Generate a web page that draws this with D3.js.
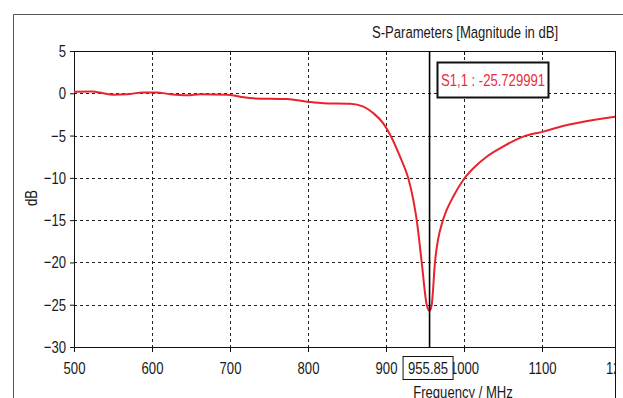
<!DOCTYPE html>
<html>
<head>
<meta charset="utf-8">
<script src="https://cdn.jsdelivr.net/npm/d3@7"></script>
<style>
  body { margin: 0; background: #fff; }
  svg text { font-family: "Liberation Sans", Arial, sans-serif; font-size: 17px; fill: #1a1a1a; }
</style>
</head>
<body>
<svg id="chart" width="623" height="398"></svg>
<script>
// S11 trace
const freqMHz = [500, 524, 536, 550, 568, 588, 606, 623, 645, 662, 696, 713, 730, 773, 799, 820, 854,
  871, 884, 896.5, 905, 918, 928.6, 935, 939.4, 945.8, 952.2, 955.85, 958.6, 962.8, 973, 977.8,
  986.3, 999, 1012, 1029, 1050, 1076, 1102, 1127, 1153, 1194, 1200];
const s11dB = [0.19, 0.2, 0.03, -0.16, -0.12, 0.1, 0.1, -0.1, -0.24, -0.12, -0.16, -0.4, -0.6, -0.67, -0.99, -1.18, -1.25,
  -1.58, -2.37, -3.55, -4.85, -7.5, -10.05, -12.6, -15, -20, -25, -25.73, -25, -20, -15, -13.8,
  -12.2, -10.25, -8.87, -7.5, -6.3, -5.12, -4.53, -3.87, -3.36, -2.77, -2.7];
const xTicks = [500, 600, 700, 800, 900, 1000, 1100, 1200];
const yTicks = [5, 0, -5, -10, -15, -20, -25, -30];
const markerFreq = 955.85;
const markerLabel = "S1,1 : -25.729991";

const NARROW = 0.77; // the original uses a condensed face
const svg = d3.select('#chart');
const pLeft = 74, pRight = 615, pTop = 51, pBottom = 347;

let x = d3.scaleLinear().domain([500, 1200]).range([74, 620]);
let y = d3.scaleLinear().domain([-30, 5]).range([pBottom, pTop]);

function label(tx, ty, str, anchor, extra = '') {
  return svg.append('text')
    .attr('transform', `translate(${tx},${ty})${extra}scale(${NARROW},1)`)
    .attr('text-anchor', anchor || 'start')
    .text(str);
}

// outer frame
svg.append('path').attr('d', 'M13.5,398V14.5H623').attr('fill', 'none').attr('stroke', '#555').attr('stroke-width', 1);

label(372, 38, 'S-Parameters [Magnitude in dB]');

svg.append('defs').append('clipPath').attr('id', 'plot')
  .append('rect').attr('x', pLeft).attr('y', pTop).attr('width', pRight - pLeft).attr('height', pBottom - pTop);

let grid = svg.append('g').attr('clip-path', 'url(#plot)')
  .attr('stroke', '#222').attr('stroke-dasharray', '3,3').attr('stroke-width', 1);
grid.selectAll('.vx').data(xTicks.slice(1, -1)).enter().append('line')
  .attr('x1', d => Math.round(x(d)) + 0.5).attr('x2', d => Math.round(x(d)) + 0.5)
  .attr('y1', pTop).attr('y2', pBottom);
grid.selectAll('.hy').data(yTicks.slice(1, -1)).enter().append('line')
  .attr('y1', d => Math.round(y(d)) + 0.5).attr('y2', d => Math.round(y(d)) + 0.5)
  .attr('x1', pLeft).attr('x2', pRight);

// axes
let xAxis = svg.append('g').attr('transform', `translate(0,${pBottom})`)
  .call(d3.axisBottom(x).tickValues(xTicks).tickSize(5).tickPadding(10).tickFormat(d3.format('d')));
let yAxis = svg.append('g').attr('transform', `translate(${pLeft},0)`)
  .call(d3.axisLeft(y).tickValues(yTicks).tickSize(4).tickPadding(4));
// top ticks
svg.append('g').attr('transform', `translate(0,${pTop})`)
  .call(d3.axisTop(x).tickValues(xTicks).tickSize(-4).tickFormat(''))
  .select('.domain').remove();
[xAxis, yAxis].forEach(a => {
  a.attr('font-family', null).attr('font-size', null);
  a.selectAll('text').attr('fill', null).attr('transform', `scale(${NARROW},1)`);
  a.select('.domain').remove();
});
yAxis.selectAll('text').attr('x', -8 / NARROW);
svg.selectAll('.tick line').attr('stroke', '#111');

svg.append('rect').attr('x', pLeft + 0.5).attr('y', pTop + 0.5).attr('width', pRight - pLeft).attr('height', pBottom - pTop)
  .attr('fill', 'none').attr('stroke', '#111').attr('stroke-width', 1);

// trace
let line = d3.line().x((d, i) => x(freqMHz[i])).y(d => y(d)).curve(d3.curveMonotoneX);
svg.append('path').datum(s11dB).attr('clip-path', 'url(#plot)')
  .attr('d', line).attr('fill', 'none').attr('stroke', '#e8232d').attr('stroke-width', 2)
  .attr('stroke-linejoin', 'round');

// marker
let mx = x(markerFreq);
svg.append('line').attr('x1', mx).attr('x2', mx).attr('y1', pTop).attr('y2', pBottom)
  .attr('stroke', '#000').attr('stroke-width', 1.6);
svg.append('rect').attr('x', 437.5).attr('y', 62.5).attr('width', 111).attr('height', 35)
  .attr('fill', '#fff').attr('stroke', '#111').attr('stroke-width', 2);
label(493, 86, markerLabel, 'middle').style('fill', '#e8303a');
svg.append('rect').attr('x', mx - 26.5).attr('y', 356.5).attr('width', 50).attr('height', 23)
  .attr('fill', '#fff').attr('stroke', '#111').attr('stroke-width', 1);
label(mx - 1.5, 374, d3.format('.2f')(markerFreq), 'middle');

// axis titles
label(37, 198, 'dB', 'middle', 'rotate(-90)');
label(463, 398, 'Frequency / MHz', 'middle');

// right cut-off edge
svg.append('rect').attr('x', pRight + 1).attr('y', 15).attr('width', 10).attr('height', 398).attr('fill', '#fff');
svg.append('line').attr('x1', pRight + 0.5).attr('x2', pRight + 0.5).attr('y1', pTop).attr('y2', 398)
  .attr('stroke', '#111');
</script>
</body>
</html>
